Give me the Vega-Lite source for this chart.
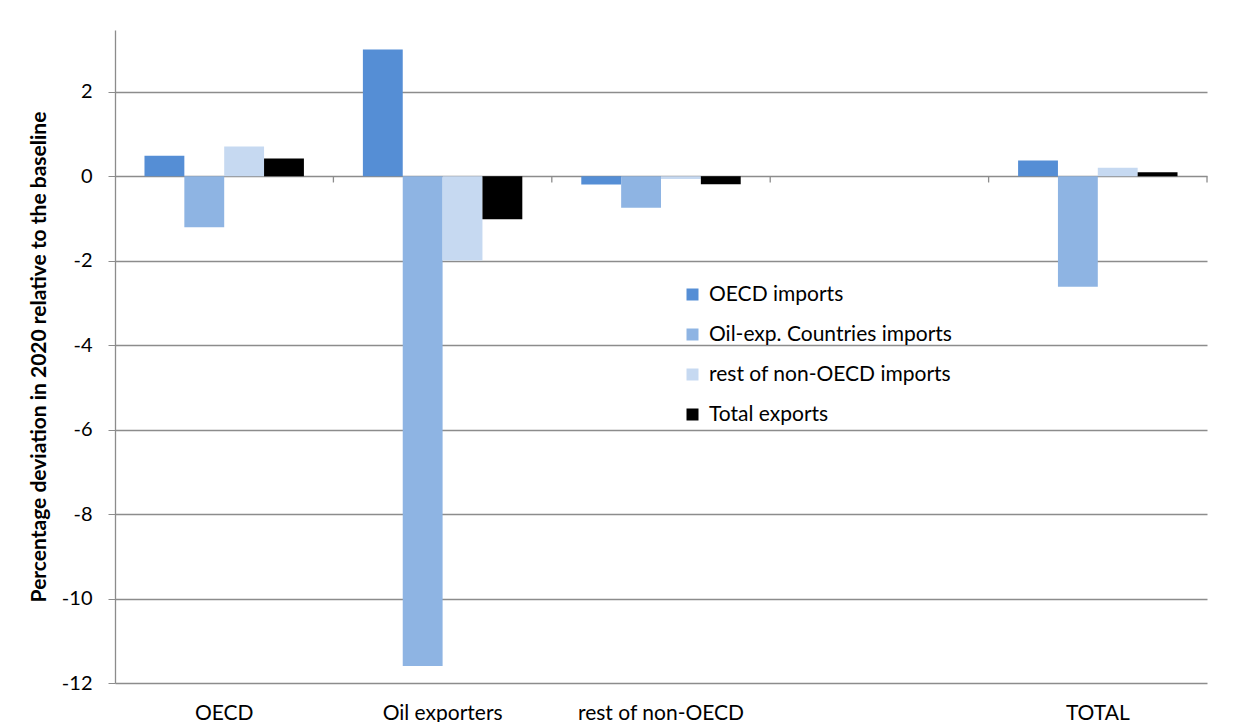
{
  "$schema": "https://vega.github.io/schema/vega-lite/v6.json",
  "width": 1092,
  "height": 653,
  "autosize": "none",
  "padding": {"left": 115, "top": 30, "right": 27, "bottom": 39},
  "background": "white",
  "config": {"view": {"stroke": null}, "font": "Lato"},
  "datasets": {
    "bars": [
      {"region": "OECD", "series": "OECD imports", "order": 1, "value": 0.48},
      {"region": "OECD", "series": "Oil-exp. Countries imports", "order": 2, "value": -1.21},
      {"region": "OECD", "series": "rest of non-OECD imports", "order": 3, "value": 0.7},
      {"region": "OECD", "series": "Total exports", "order": 4, "value": 0.42},
      {"region": "Oil exporters", "series": "OECD imports", "order": 1, "value": 3.0},
      {"region": "Oil exporters", "series": "Oil-exp. Countries imports", "order": 2, "value": -11.6},
      {"region": "Oil exporters", "series": "rest of non-OECD imports", "order": 3, "value": -2.0},
      {"region": "Oil exporters", "series": "Total exports", "order": 4, "value": -1.02},
      {"region": "rest of non-OECD", "series": "OECD imports", "order": 1, "value": -0.2},
      {"region": "rest of non-OECD", "series": "Oil-exp. Countries imports", "order": 2, "value": -0.75},
      {"region": "rest of non-OECD", "series": "rest of non-OECD imports", "order": 3, "value": -0.07},
      {"region": "rest of non-OECD", "series": "Total exports", "order": 4, "value": -0.19},
      {"region": "TOTAL", "series": "OECD imports", "order": 1, "value": 0.37},
      {"region": "TOTAL", "series": "Oil-exp. Countries imports", "order": 2, "value": -2.62},
      {"region": "TOTAL", "series": "rest of non-OECD imports", "order": 3, "value": 0.2},
      {"region": "TOTAL", "series": "Total exports", "order": 4, "value": 0.09}
    ],
    "slots": [
      {"region": "OECD"},
      {"region": "Oil exporters"},
      {"region": "rest of non-OECD"},
      {"region": " "},
      {"region": "TOTAL"}
    ]
  },
  "encoding": {
    "x": {
      "field": "region",
      "type": "nominal",
      "sort": null,
      "scale": {
        "domain": ["OECD", "Oil exporters", "rest of non-OECD", " ", "TOTAL"],
        "paddingInner": 0.27,
        "paddingOuter": 0.135
      },
      "axis": {
        "orient": "bottom",
        "title": null,
        "domain": false,
        "ticks": false,
        "grid": false,
        "labelAngle": 0,
        "labelPadding": 19,
        "labelFontSize": 21,
        "labelColor": "#000000",
        "labelFont": "Lato"
      }
    }
  },
  "layer": [
    {
      "data": {"name": "bars"},
      "mark": {"type": "bar"},
      "encoding": {
        "xOffset": {
          "field": "series",
          "type": "nominal",
          "sort": ["OECD imports", "Oil-exp. Countries imports", "rest of non-OECD imports", "Total exports"],
          "scale": {"paddingInner": 0, "paddingOuter": 0}
        },
        "y": {
          "field": "value",
          "type": "quantitative",
          "scale": {"domain": [-12, 3.46], "nice": false, "zero": false},
          "axis": {
            "values": [-12, -10, -8, -6, -4, -2, 0, 2],
            "labelExpr": "'' + datum.value",
            "grid": true,
            "gridColor": "#8c8c8c",
            "gridWidth": 1.3,
            "domainColor": "#8c8c8c",
            "domainWidth": 1.3,
            "tickColor": "#8c8c8c",
            "tickSize": 7,
            "labelFontSize": 20,
            "labelColor": "#000000",
            "labelPadding": 16,
            "title": "Percentage deviation in 2020 relative to the baseline",
            "titleFontSize": 21,
            "titleFontWeight": "bold",
            "titleColor": "#000000",
            "titlePadding": 12
          }
        },
        "color": {
          "field": "series",
          "type": "nominal",
          "scale": {
            "domain": ["OECD imports", "Oil-exp. Countries imports", "rest of non-OECD imports", "Total exports"],
            "range": ["#558ED5", "#8EB4E3", "#C6D9F1", "#000000"]
          },
          "legend": {
            "orient": "none",
            "legendX": 567,
            "legendY": 254,
            "title": null,
            "symbolType": "square",
            "symbolSize": 144,
            "symbolStrokeWidth": 0,
            "labelFontSize": 21,
            "labelLimit": 0,
            "labelColor": "#000000",
            "labelOffset": 6,
            "rowPadding": 18
          }
        }
      }
    },
    {
      "data": {"name": "slots"},
      "mark": {"type": "rule", "color": "#8c8c8c", "strokeWidth": 1.3},
      "encoding": {
        "x": {"field": "region", "type": "nominal", "bandPosition": 1.185},
        "y": {"datum": 0},
        "y2": {"datum": -0.15}
      }
    }
  ]
}
